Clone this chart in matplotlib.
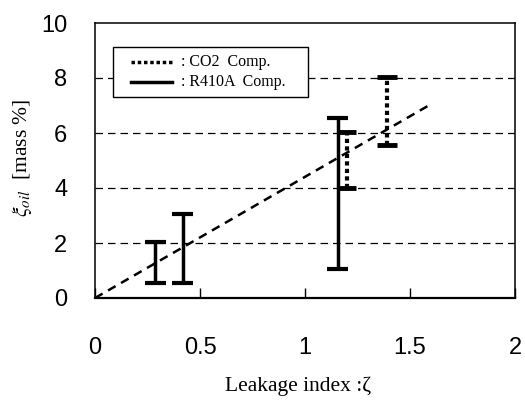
import matplotlib
matplotlib.use("Agg")
import matplotlib.pyplot as plt
from matplotlib.patches import Rectangle

# R410A compressor ranges (solid bars)
r410_x = [0.286, 0.417, 1.156]
r410_lo = [0.55, 0.55, 1.05]
r410_hi = [2.05, 3.05, 6.55]

# CO2 compressor ranges (dotted bars)
co2_x = [1.198, 1.389]
co2_lo = [4.0, 5.55]
co2_hi = [6.05, 8.05]

# fitted line
fit_x = [0.0, 1.6]
fit_y = [0.0, 7.05]

x_ticks = [0, 0.5, 1, 1.5, 2]
x_labels = ["0", "0.5", "1", "1.5", "2"]
y_ticks = [0, 2, 4, 6, 8, 10]
y_labels = ["0", "2", "4", "6", "8", "10"]

legend_labels = [": CO2  Comp.", ": R410A  Comp."]

plt.rcParams['mathtext.fontset'] = 'stix'

fig = plt.figure(figsize=(5.25, 4), dpi=100)
ax = fig.add_axes([0.181, 0.255, 0.800, 0.6875])

for y in [2, 4, 6, 8]:
    ax.axhline(y, color='black', lw=0.9, ls=(0, (6, 4)), zorder=1)

ax.plot(fit_x, fit_y, color='black', lw=1.8, ls=(0, (3.5, 2.5)), zorder=2)

cap = 0.05
ax.vlines(r410_x, r410_lo, r410_hi, color='black', lw=2.5, zorder=3)
ax.hlines(r410_lo, [x - cap for x in r410_x], [x + cap for x in r410_x], color='black', lw=3, zorder=3)
ax.hlines(r410_hi, [x - cap for x in r410_x], [x + cap for x in r410_x], color='black', lw=3, zorder=3)

cap2 = 0.047
ax.vlines(co2_x, co2_lo, co2_hi, color='black', lw=3, ls=(0, (1, 0.8)), zorder=3)
ax.hlines(co2_lo, [x - cap2 for x in co2_x], [x + cap2 for x in co2_x], color='black', lw=3.5, zorder=3)
ax.hlines(co2_hi, [x - cap2 for x in co2_x], [x + cap2 for x in co2_x], color='black', lw=3.5, zorder=3)

ax.set_xlim(0, 2)
ax.set_ylim(0, 10)
ax.set_xticks(x_ticks)
ax.set_xticklabels(x_labels)
ax.set_yticks(y_ticks)
ax.set_yticklabels(y_labels)
ax.tick_params(axis='x', direction='in', length=7, width=1, pad=28, labelsize=17)
ax.tick_params(axis='y', length=0, pad=20, labelsize=17)
for lab in ax.get_xticklabels() + ax.get_yticklabels():
    lab.set_fontfamily('Liberation Sans')

for side in ['left', 'top', 'right']:
    ax.spines[side].set_linewidth(1.1)
ax.spines['bottom'].set_linewidth(1.6)

# legend box drawn by hand to match the original layout
ax.add_patch(Rectangle((0.043, 0.731), 0.464, 0.182, transform=ax.transAxes,
                       facecolor='white', edgecolor='black', lw=1.0, zorder=5))
ax.plot([0.086, 0.183], [0.858, 0.858], transform=ax.transAxes, color='black',
        lw=2.5, ls=(0, (1, 0.8)), zorder=6)
ax.plot([0.086, 0.183], [0.785, 0.785], transform=ax.transAxes, color='black',
        lw=2.5, zorder=6)
for yy, lab in zip([0.858, 0.785], legend_labels):
    ax.text(0.205, yy, lab, transform=ax.transAxes, ha='left', va='center',
            fontsize=11.5, family='Liberation Serif', zorder=6)

fig.text(0.042, 0.605, r'$\xi_{oil}$  [mass %]', rotation=90, ha='center', va='center',
         fontsize=15.5, family='Liberation Serif')
fig.text(0.568, 0.022, 'Leakage index :ζ', ha='center', va='baseline',
         fontsize=15.5, family='Liberation Serif')

fig.savefig('out.png', dpi=100)
